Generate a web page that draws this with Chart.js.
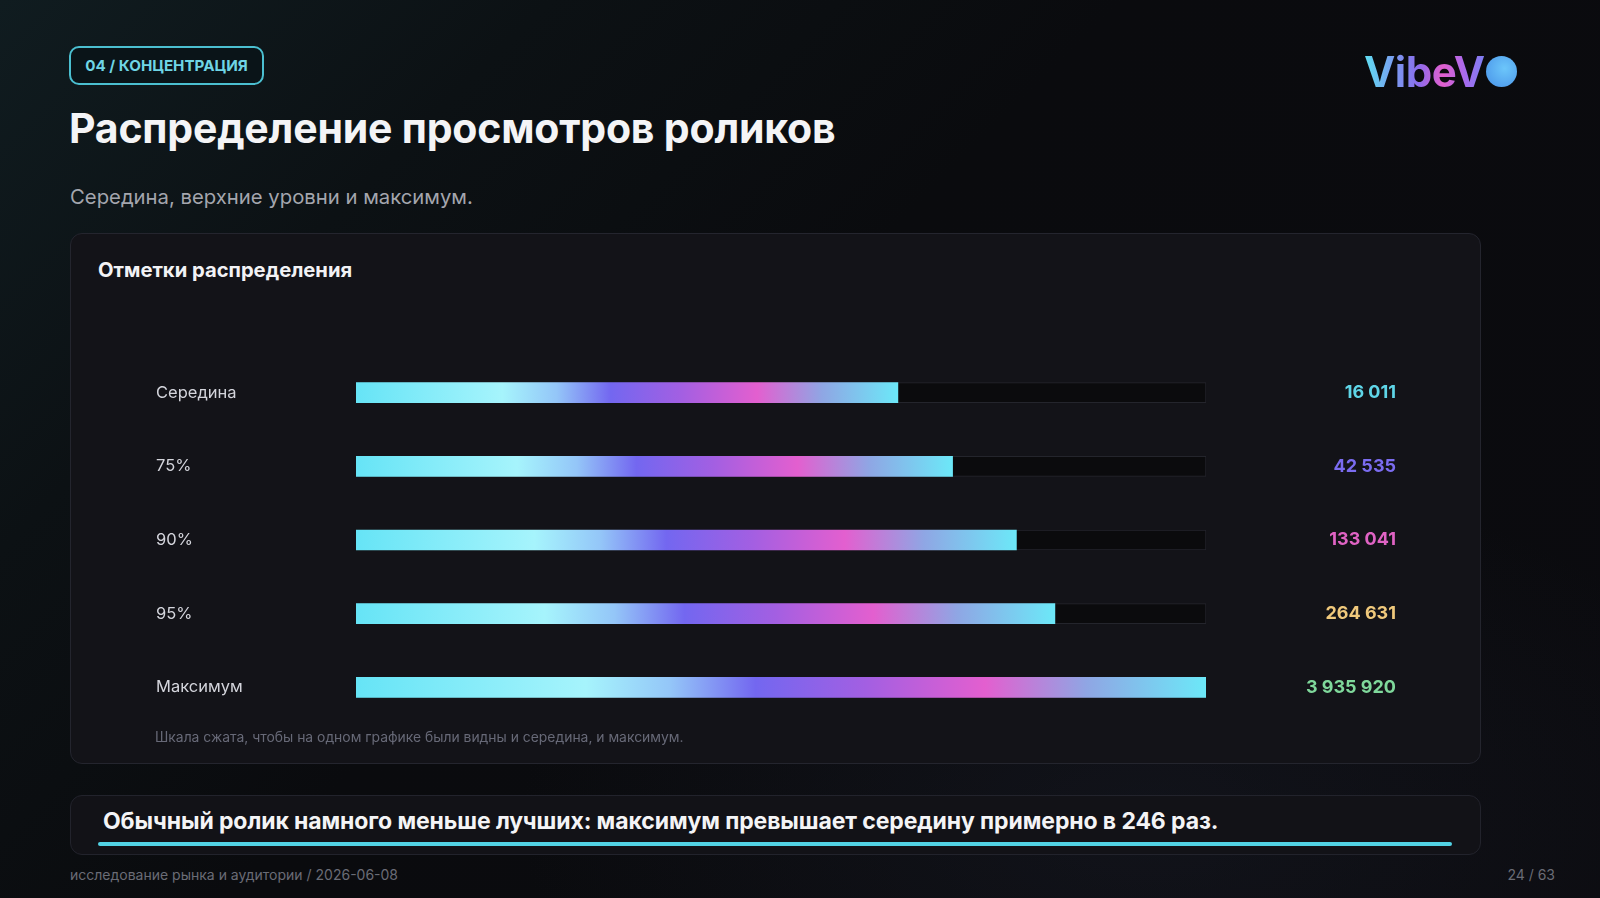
<!DOCTYPE html>
<html lang="ru">
<head>
<meta charset="utf-8">
<script src="https://cdn.jsdelivr.net/npm/chart.js@4.4.1/dist/chart.umd.min.js"></script>
<style>
  html, body { margin:0; padding:0; }
  body {
    width:1600px; height:898px; overflow:hidden; position:relative;
    font-family: Inter, "Noto Sans", sans-serif;
    background:
      radial-gradient(ellipse 900px 500px at 1150px 820px, rgba(30,34,48,0.35), rgba(0,0,0,0) 70%),
      linear-gradient(135deg, #101c20 0%, #0c1114 22%, #0a0b0e 45%, #0b0b0f 100%);
    color:#fff;
  }
  .badge {
    position:absolute; left:69px; top:46px; width:191px; height:35px;
    border:2px solid #4bbfd0; border-radius:10px; background:#0a1418;
    color:#6fd5e5; font-weight:700; font-size:15.2px; line-height:35px; text-align:center;
  }
  .title { position:absolute; left:69px; top:103px; font-size:41px; font-weight:700; color:#f4f4f6; letter-spacing:-0.2px; white-space:nowrap; }
  .subtitle { position:absolute; left:70px; top:184px; font-size:20.3px; color:#a4a6ae; white-space:nowrap; }
  .logo { position:absolute; left:1364px; top:46px; height:50px; display:flex; align-items:center; }
  .logo span.t {
    font-size:42px; font-weight:700; letter-spacing:-0.5px;
    background: linear-gradient(90deg, #5fe0f2 0%, #7a9cf0 25%, #8a6cec 45%, #e25fce 65%, #a36cf0 85%, #7c80f2 100%);
    -webkit-background-clip:text; background-clip:text; color:transparent;
  }
  .logo span.dot { display:inline-block; width:31px; height:31px; border-radius:50%; margin-left:1px;
    background: radial-gradient(circle at 60% 40%, #6cc6fa, #4f9cec 80%); }
  .card {
    position:absolute; left:70px; top:233px; width:1411px; height:531px;
    background:#131318; border:1px solid #24252e; border-radius:12px; box-sizing:border-box;
  }
  .card-title { position:absolute; left:98px; top:257px; font-size:20.2px; font-weight:700; color:#f2f2f5; white-space:nowrap; }
  .note { position:absolute; left:155px; top:729px; font-size:13.9px; color:#676977; white-space:nowrap; }
  #wrap { position:absolute; left:156px; top:345px; width:1240px; height:390px; }
  .card2 {
    position:absolute; left:70px; top:795px; width:1411px; height:60px;
    background:#121217; border:1px solid #22232c; border-radius:12px; box-sizing:border-box;
  }
  .card2-text { position:absolute; left:103px; top:807px; font-size:23px; font-weight:700; color:#f4f4f6; white-space:nowrap; letter-spacing:-0.1px; }
  .card2-line { position:absolute; left:98px; top:842px; width:1354px; height:4px; background:#52d2e4; border-radius:2px; }
  .foot-l { position:absolute; left:70px; top:866px; font-size:14px; color:#6a6c76; white-space:nowrap; }
  .foot-r { position:absolute; right:45px; top:866px; font-size:14px; color:#6a6c76; white-space:nowrap; }
</style>
</head>
<body>
<div class="badge">04 / КОНЦЕНТРАЦИЯ</div>
<div class="title">Распределение просмотров роликов</div>
<div class="subtitle">Середина, верхние уровни и максимум.</div>
<div class="logo"><span class="t">VibeV</span><span class="dot"></span></div>

<div class="card"></div>
<div class="card-title">Отметки распределения</div>
<div id="wrap"><canvas id="c"></canvas></div>
<div class="note">Шкала сжата, чтобы на одном графике были видны и середина, и максимум.</div>

<div class="card2"></div>
<div class="card2-text">Обычный ролик намного меньше лучших: максимум превышает середину примерно в 246 раз.</div>
<div class="card2-line"></div>

<div class="foot-l">исследование рынка и аудитории / 2026-06-08</div>
<div class="foot-r">24 / 63</div>

<script>
// ---- data ----
const categories = ["Середина", "75%", "90%", "95%", "Максимум"];
const views = [16011, 42535, 133041, 264631, 3935920];
const valueLabels = ["16 011", "42 535", "133 041", "264 631", "3 935 920"];
const valueColors = ["#5fd6e8", "#7b6cf0", "#e063c4", "#f0c97c", "#7fd89b"];
const axisMin = 1;
const axisMax = Math.max(...views);

const trackValues = categories.map(() => axisMax);

const gradStops = [
  [0.00, "#66e4f6"],
  [0.27, "#a6f4fc"],
  [0.37, "#94c6f8"],
  [0.47, "#7367f0"],
  [0.60, "#a35fe2"],
  [0.74, "#e35fcf"],
  [0.86, "#8fa6e4"],
  [1.00, "#6ce8f8"]
];

function barGradient(ctx) {
  const chart = ctx.chart;
  const area = chart.chartArea;
  if (!area || ctx.raw == null) return "#66e4f6";
  const x0 = area.left;
  const x1 = chart.scales.x.getPixelForValue(ctx.raw);
  const g = chart.ctx.createLinearGradient(x0, 0, Math.max(x1, x0 + 1), 0);
  gradStops.forEach(([o, c]) => g.addColorStop(o, c));
  return g;
}

new Chart(document.getElementById("c"), {
  type: "bar",
  data: {
    labels: categories,
    datasets: [
      {
        label: "views",
        data: views,
        backgroundColor: barGradient,
        borderWidth: 0,
        barThickness: 20,
        grouped: false,
        order: 1
      },
      {
        label: "track",
        data: trackValues,
        backgroundColor: "#0b0b0d",
        borderColor: "#24252c",
        borderWidth: 1,
        borderSkipped: false,
        barThickness: 20,
        grouped: false,
        order: 2
      }
    ]
  },
  options: {
    indexAxis: "y",
    responsive: true,
    maintainAspectRatio: false,
    animation: false,
    layout: { padding: 0 },
    plugins: { legend: { display: false }, tooltip: { enabled: false } },
    scales: {
      x: {
        type: "logarithmic",
        min: axisMin,
        max: axisMax,
        display: false
      },
      y: {
        position: "left",
        offset: true,
        grid: { display: false, drawTicks: false },
        border: { display: false },
        afterFit: s => { s.width = 200; },
        ticks: {
          crossAlign: "far",
          padding: 0,
          color: "#d4d5dc",
          font: { family: "Inter", size: 16.5, weight: "400" }
        }
      },
      y2: {
        type: "category",
        position: "right",
        labels: valueLabels,
        offset: true,
        grid: { display: false, drawTicks: false },
        border: { display: false },
        afterFit: s => { s.width = 190; },
        ticks: {
          crossAlign: "far",
          padding: 0,
          color: c => valueColors[c.index],
          font: { family: "Inter", size: 18, weight: "700" }
        }
      }
    }
  }
});
</script>
</body>
</html>
